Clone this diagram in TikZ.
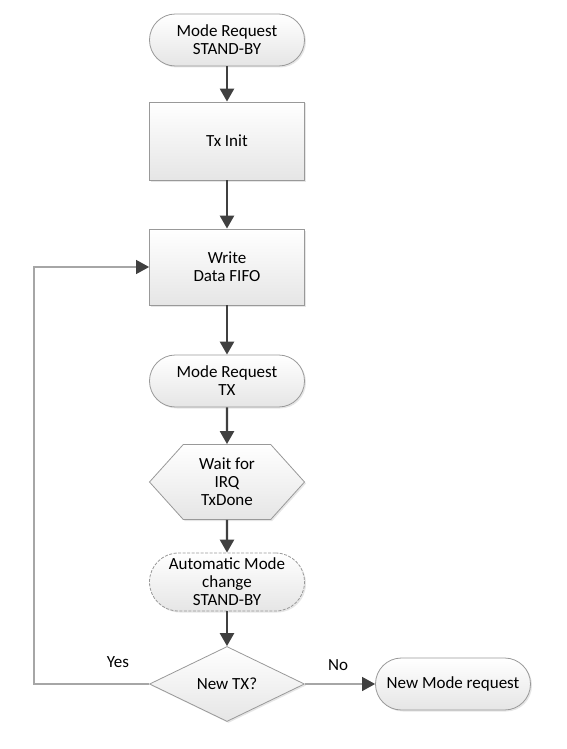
\documentclass[tikz,border=0pt]{standalone}
\usepackage{fontspec}
\setmainfont{Carlito}
\usetikzlibrary{shapes.geometric,shapes.symbols,arrows.meta,shadows}

\begin{document}
\begin{tikzpicture}[x=1pt,y=-1pt,
  box/.style={draw=black!40, line width=0.8pt, top color=white, bottom color=black!10,
    minimum width=155pt, align=center, font=\fontsize{17}{18}\selectfont, inner sep=2pt,
    drop shadow={opacity=0.2, shadow xshift=1.5pt, shadow yshift=-1.5pt}},
  proc/.style={box, rectangle, minimum height=78pt},
  term/.style={box, rectangle, minimum height=52pt, rounded corners=25.9pt},
  wait/.style={box, signal, signal to=east and west, signal pointer angle=96, minimum height=75pt},
  dec/.style={box, diamond, minimum height=75pt, inner sep=0pt},
  flow/.style={draw=black!75, line width=2.4pt, -{Triangle[width=14pt,length=13pt]}},
  back/.style={draw=black!35, line width=1.2pt, -{Triangle[width=14pt,length=13pt,color=black!75]}},
  lbl/.style={font=\fontsize{17}{18}\selectfont}
]
\useasboundingbox (0,0) rectangle (567,749);

\node[term] (S_1) at (227,40) {Mode Request\\STAND-BY};
\node[proc] (S_2) at (227,141) {Tx Init};
\node[proc, minimum height=76pt] (S_3) at (227,267) {Write\\Data FIFO};
\node[term] (S_4) at (227,381) {Mode Request\\TX};
\node[wait] (S_5) at (227,482) {Wait for\\IRQ\\TxDone};
\node[term, dash pattern=on 3pt off 1.5pt, minimum height=58pt, rounded corners=28.9pt] (S_6) at (227,582) {Automatic Mode\\change\\STAND-BY};
\node[dec] (S_7) at (227,684) {New TX?};
\node[term] (S_8) at (453,684) {New Mode request};
\coordinate (C_1) at (34,480);

\draw[flow] (S_1) -- (S_2);
\draw[flow] (S_2) -- (S_3);
\draw[flow] (S_3) -- (S_4);
\draw[flow] (S_4) -- (S_5);
\draw[flow] (S_5) -- (S_6);
\draw[flow] (S_6) -- (S_7);
\draw[back] (S_7.west) -| (C_1) |- (S_3.west);
\draw[back] (S_7.east) -- (S_8.west);

\node[lbl] (L_1) at (118,662) {Yes};
\node[lbl] (L_2) at (338,665) {No};

\end{tikzpicture}
\end{document}
